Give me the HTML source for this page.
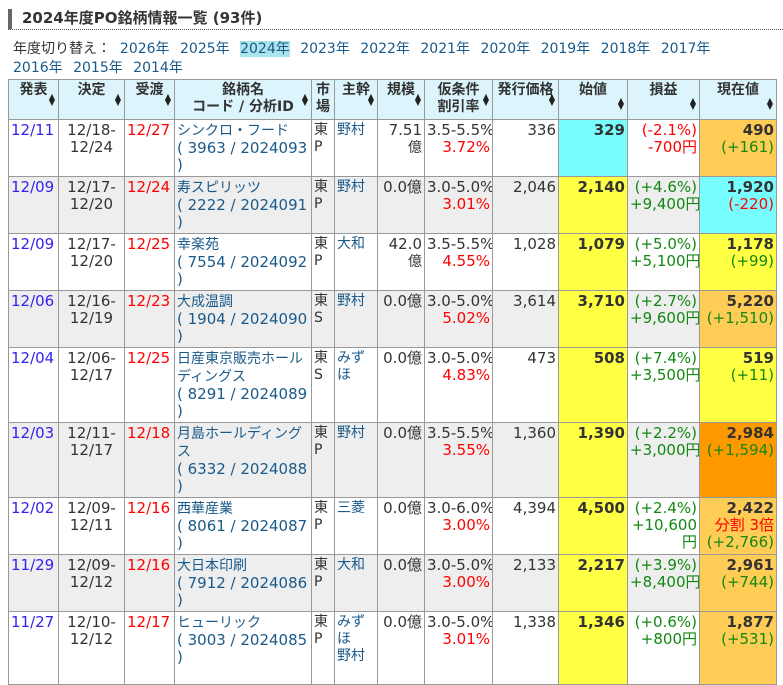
<!DOCTYPE html>
<html><head><meta charset="utf-8">
<style>
html,body{margin:0;padding:0;background:#fff;}
body{width:783px;height:663px;overflow:hidden;font-family:"DejaVu Sans","Noto Sans CJK JP",sans-serif;color:#333;position:relative;}
.title{position:absolute;left:8px;top:9px;width:775px;height:21px;border-left:4px solid #666;border-bottom:1px dotted #555;font-weight:bold;font-size:15px;line-height:19px;padding-left:10px;box-sizing:border-box;}
.yrs{position:absolute;left:13px;top:40px;font-size:14px;line-height:19px;width:770px;}
.yrs a{color:#1a5a8a;margin-right:6px;text-decoration:none;}
.yrs .cur{background:#a8e4ea;}
table{position:absolute;left:8px;top:79px;width:768px;border-collapse:collapse;table-layout:fixed;font-size:15px;line-height:17px;}
td,th{border:1px solid #999;padding:2px 2px;vertical-align:top;white-space:nowrap;overflow:hidden;}
th{background:#dcf5fc;font-weight:bold;height:35px;position:relative;color:#333;font-size:14px;}
th .s{position:absolute;right:3px;top:14px;font-size:8px;line-height:6px;color:#222;}
td{height:51px;}
tr.f td{height:68px;}
tr.g td{background:#eee;}
.r{text-align:right;}
.c{text-align:center;}
.p{color:#3322ee;}
.red{color:#f00;}
.gr{color:#118811;}
.l{color:#1a5a8a;}
.j{font-size:14px;}
b{color:#333;}
td.cy{background:#77ffff !important;}
td.ye{background:#ffff44 !important;}
td.or{background:#ffcc55 !important;}
td.do{background:#ff9900 !important;}
</style></head><body>
<div class="title">2024年度PO銘柄情報一覧 (93件)</div>
<div class="yrs">年度切り替え：&nbsp; <a>2026年</a> <a>2025年</a> <a class="cur">2024年</a> <a>2023年</a> <a>2022年</a> <a>2021年</a> <a>2020年</a> <a>2019年</a> <a>2018年</a> <a>2017年</a><br><a>2016年</a> <a>2015年</a> <a>2014年</a></div>
<table>
<colgroup><col style="width:50px"><col style="width:66px"><col style="width:50px"><col style="width:137px"><col style="width:23px"><col style="width:43px"><col style="width:47px"><col style="width:68px"><col style="width:66px"><col style="width:69px"><col style="width:72px"><col style="width:77px"></colgroup>
<tr><th>発表<span class="s">▲<br>▼</span></th><th>決定<span class="s">▲<br>▼</span></th><th>受渡<span class="s">▲<br>▼</span></th><th>銘柄名<br>コード / 分析ID<span class="s">▲<br>▼</span></th><th>市<br>場</th><th>主幹<span class="s">▲<br>▼</span></th><th>規模<span class="s">▲<br>▼</span></th><th>仮条件<br>割引率<span class="s">▲<br>▼</span></th><th>発行価格<span class="s">▲<br>▼</span></th><th>始値<span class="s" style="top:18px">▲<br>▼</span></th><th>損益<span class="s" style="top:18px">▲<br>▼</span></th><th>現在値<span class="s" style="top:18px">▲<br>▼</span></th></tr>

<tr><td class="p">12/11</td><td class="c">12/18-<br>12/24</td><td class="red">12/27</td><td class="l"><span class="j">シンクロ・フード</span><br>( 3963 / 2024093<br>)</td><td class="j">東<br>P</td><td class="l j">野村</td><td class="r">7.51<br><span class="j">億</span></td><td class="r">3.5-5.5%<br><span class="red">3.72%</span></td><td class="r">336</td><td class="r cy"><b>329</b></td><td class="r red">(-2.1%)<br>-700円</td><td class="r or"><b>490</b><br><span class="gr">(+161)</span></td></tr>

<tr class="g"><td class="p">12/09</td><td class="c">12/17-<br>12/20</td><td class="red">12/24</td><td class="l"><span class="j">寿スピリッツ</span><br>( 2222 / 2024091<br>)</td><td class="j">東<br>P</td><td class="l j">野村</td><td class="r">0.0億</td><td class="r">3.0-5.0%<br><span class="red">3.01%</span></td><td class="r">2,046</td><td class="r ye"><b>2,140</b></td><td class="r gr">(+4.6%)<br>+9,400円</td><td class="r cy"><b>1,920</b><br><span class="red">(-220)</span></td></tr>

<tr><td class="p">12/09</td><td class="c">12/17-<br>12/20</td><td class="red">12/25</td><td class="l"><span class="j">幸楽苑</span><br>( 7554 / 2024092<br>)</td><td class="j">東<br>P</td><td class="l j">大和</td><td class="r">42.0<br><span class="j">億</span></td><td class="r">3.5-5.5%<br><span class="red">4.55%</span></td><td class="r">1,028</td><td class="r ye"><b>1,079</b></td><td class="r gr">(+5.0%)<br>+5,100円</td><td class="r ye"><b>1,178</b><br><span class="gr">(+99)</span></td></tr>

<tr class="g"><td class="p">12/06</td><td class="c">12/16-<br>12/19</td><td class="red">12/23</td><td class="l"><span class="j">大成温調</span><br>( 1904 / 2024090<br>)</td><td class="j">東<br>S</td><td class="l j">野村</td><td class="r">0.0億</td><td class="r">3.0-5.0%<br><span class="red">5.02%</span></td><td class="r">3,614</td><td class="r ye"><b>3,710</b></td><td class="r gr">(+2.7%)<br>+9,600円</td><td class="r or"><b>5,220</b><br><span class="gr">(+1,510)</span></td></tr>

<tr class="f"><td class="p">12/04</td><td class="c">12/06-<br>12/17</td><td class="red">12/25</td><td class="l"><span class="j">日産東京販売ホール<br>ディングス</span><br>( 8291 / 2024089<br>)</td><td class="j">東<br>S</td><td class="l j">みず<br>ほ</td><td class="r">0.0億</td><td class="r">3.0-5.0%<br><span class="red">4.83%</span></td><td class="r">473</td><td class="r ye"><b>508</b></td><td class="r gr">(+7.4%)<br>+3,500円</td><td class="r ye"><b>519</b><br><span class="gr">(+11)</span></td></tr>

<tr class="g f"><td class="p">12/03</td><td class="c">12/11-<br>12/17</td><td class="red">12/18</td><td class="l"><span class="j">月島ホールディング<br>ス</span><br>( 6332 / 2024088<br>)</td><td class="j">東<br>P</td><td class="l j">野村</td><td class="r">0.0億</td><td class="r">3.5-5.5%<br><span class="red">3.55%</span></td><td class="r">1,360</td><td class="r ye"><b>1,390</b></td><td class="r gr">(+2.2%)<br>+3,000円</td><td class="r do"><b>2,984</b><br><span class="gr">(+1,594)</span></td></tr>

<tr><td class="p">12/02</td><td class="c">12/09-<br>12/11</td><td class="red">12/16</td><td class="l"><span class="j">西華産業</span><br>( 8061 / 2024087<br>)</td><td class="j">東<br>P</td><td class="l j">三菱</td><td class="r">0.0億</td><td class="r">3.0-6.0%<br><span class="red">3.00%</span></td><td class="r">4,394</td><td class="r ye"><b>4,500</b></td><td class="r gr">(+2.4%)<br>+10,600<br>円</td><td class="r or"><b>2,422</b><br><span class="red">分割 3倍</span><br><span class="gr">(+2,766)</span></td></tr>

<tr class="g"><td class="p">11/29</td><td class="c">12/09-<br>12/12</td><td class="red">12/16</td><td class="l"><span class="j">大日本印刷</span><br>( 7912 / 2024086<br>)</td><td class="j">東<br>P</td><td class="l j">大和</td><td class="r">0.0億</td><td class="r">3.0-5.0%<br><span class="red">3.00%</span></td><td class="r">2,133</td><td class="r ye"><b>2,217</b></td><td class="r gr">(+3.9%)<br>+8,400円</td><td class="r or"><b>2,961</b><br><span class="gr">(+744)</span></td></tr>

<tr class="f"><td class="p">11/27</td><td class="c">12/10-<br>12/12</td><td class="red">12/17</td><td class="l"><span class="j">ヒューリック</span><br>( 3003 / 2024085<br>)</td><td class="j">東<br>P</td><td class="l j">みず<br>ほ<br>野村</td><td class="r">0.0億</td><td class="r">3.0-5.0%<br><span class="red">3.01%</span></td><td class="r">1,338</td><td class="r ye"><b>1,346</b></td><td class="r gr">(+0.6%)<br>+800円</td><td class="r or"><b>1,877</b><br><span class="gr">(+531)</span></td></tr>
</table>
</body></html>
